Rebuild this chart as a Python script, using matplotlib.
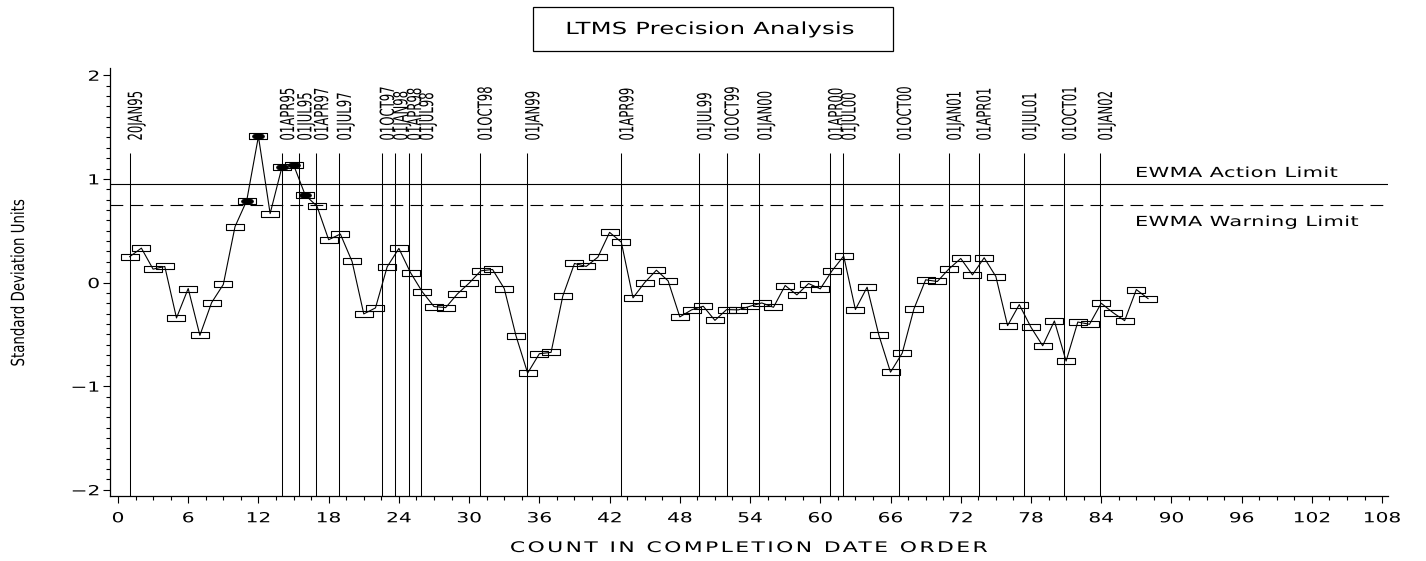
import numpy as np
import matplotlib
matplotlib.use("Agg")
import matplotlib.pyplot as plt
from matplotlib.path import Path
from matplotlib.patches import Rectangle
from matplotlib.patheffects import AbstractPathEffect
from matplotlib.ticker import MultipleLocator
from matplotlib.transforms import offset_copy

# ---------------- data ----------------
test_count = list(range(1, 89))
ewma_values = [0.249, 0.332, 0.129, 0.155, -0.342, -0.058, -0.510, -0.194, -0.019, 0.539,
               0.790, 1.410, 0.665, 1.110, 1.136, 0.843, 0.737, 0.413, 0.468, 0.203,
               -0.303, -0.245, 0.152, 0.329, 0.094, -0.090, -0.232, -0.242, -0.110, -0.006,
               0.113, 0.126, -0.058, -0.513, -0.874, -0.687, -0.674, -0.132, 0.184, 0.155,
               0.245, 0.484, 0.390, -0.148, 0.000, 0.119, 0.016, -0.332, -0.264, -0.229,
               -0.365, -0.261, -0.264, -0.229, -0.197, -0.239, -0.029, -0.119, -0.010, -0.061,
               0.113, 0.255, -0.261, -0.045, -0.506, -0.865, -0.681, -0.255, 0.026, 0.010,
               0.132, 0.232, 0.074, 0.239, 0.058, -0.416, -0.213, -0.432, -0.610, -0.371,
               -0.758, -0.381, -0.403, -0.200, -0.290, -0.368, -0.068, -0.155]
action_limit = 0.955
warning_limit = 0.745
date_labels = ["20JAN95", "01APR95", "01JUL95", "01APR97", "01JUL97", "01OCT97", "01JAN98",
               "01APR98", "01JUL98", "01OCT98", "01JAN99", "01APR99", "01JUL99", "01OCT99",
               "01JAN00", "01APR00", "01JUL00", "01OCT00", "01JAN01", "01APR01", "01JUL01",
               "01OCT01", "01JAN02"]
date_positions = [1.02, 14.02, 15.5, 16.93, 18.88, 22.55, 23.7, 24.87, 25.9, 30.9, 34.97,
                  43.0, 49.65, 52.0, 54.8, 60.85, 61.98, 66.72, 70.97, 73.52, 77.42, 80.83, 83.9]
x_ticks = list(range(0, 109, 6))
y_ticks = [-2, -1, 0, 1, 2]
y_tick_labels = ["\u22122", "\u22121", "0", "1", "2"]
title_text = "LTMS Precision Analysis"
x_label = "COUNT IN COMPLETION DATE ORDER"
y_label = "Standard Deviation Units"
action_text = "EWMA Action Limit"
warning_text = "EWMA Warning Limit"


# ------------- text width helper (real text, glyphs stretched/tracked) -------------
class Spaced(AbstractPathEffect):
    def __init__(self, sx=1.0, track=0.0, anchor="center"):
        super().__init__()
        self.sx, self.track, self.anchor = sx, track, anchor

    def draw_path(self, renderer, gc, tpath, affine, rgbFace=None):
        verts = np.array(tpath.vertices, dtype=float)
        codes = tpath.codes
        if codes is None or len(verts) == 0:
            renderer.draw_path(gc, tpath, affine, rgbFace)
            return
        codes = np.asarray(codes)
        valid = codes != Path.CLOSEPOLY
        starts = np.flatnonzero(codes == Path.MOVETO)
        ends = list(starts[1:]) + [len(verts)]
        contours = []
        for s, e in zip(starts, ends):
            m = valid[s:e]
            xs = verts[s:e][m, 0]
            if len(xs) == 0:
                continue
            contours.append((xs.min(), xs.max(), s, e))
        contours.sort(key=lambda c: c[0])
        groups = []
        for c in contours:
            cen = 0.5 * (c[0] + c[1])
            if groups and cen < groups[-1][1]:
                groups[-1][1] = max(groups[-1][1], c[1])
                groups[-1][2].append(c)
            else:
                groups.append([c[0], c[1], [c]])
        new = verts.copy()
        shift = 0.0
        prev_max = None
        for g in groups:
            if prev_max is not None:
                shift += self.track
                if g[0] - prev_max > 28:
                    shift += self.track
            for c in g[2]:
                new[c[2]:c[3], 0] += shift
            prev_max = g[1] if prev_max is None else max(prev_max, g[1])
        ox = verts[valid, 0]
        nx = new[valid, 0]
        if self.anchor == "start":
            a_old, a_new = 0.0, 0.0
        elif self.anchor == "end":
            a_old, a_new = ox.max(), nx.max()
        else:
            a_old = 0.5 * (ox.min() + ox.max())
            a_new = 0.5 * (nx.min() + nx.max())
        new[:, 0] = a_old + self.sx * (new[:, 0] - a_new)
        renderer.draw_path(gc, Path(new, codes), affine, rgbFace)


plt.rcParams["font.family"] = ["DejaVu Sans"]

W, H = 1426, 561
fig = plt.figure(figsize=(W / 100, H / 100), dpi=100)
fig.patch.set_facecolor("white")
ax = fig.add_axes([110 / W, 1 - 496 / H, (1388 - 110) / W, (496 - 68) / H])
ax.set_xlim(-0.68, 108.5)
ax.set_ylim(-2.06, 2.07)

# limit lines
ax.axhline(action_limit, color="black", lw=0.8, zorder=2)
ax.axhline(warning_limit, color="black", lw=0.8, ls=(0, (11.5, 6.5)), zorder=2)

# date reference lines + labels
ax.vlines(date_positions, -2.06, 1.25, colors="black", lw=0.75, zorder=2)
lab_tr = offset_copy(ax.transData, fig=fig, x=-3, y=0, units="dots")
for lab, xp in zip(date_labels, date_positions):
    t = ax.text(xp, 1.37, lab, rotation=90, ha="left", va="bottom",
                fontsize=14, transform=lab_tr, clip_on=False)
    t.set_path_effects([Spaced(sx=0.6, track=0, anchor="start")])

# EWMA series
box = Path([(-1, -0.32), (1, -0.32), (1, 0.32), (-1, 0.32), (-1, -0.32)],
           [Path.MOVETO, Path.LINETO, Path.LINETO, Path.LINETO, Path.CLOSEPOLY])
th = np.linspace(0, 2 * np.pi, 41)
ell = Path(np.column_stack([np.cos(th), 0.5 * np.sin(th)]), closed=True)

ax.plot(test_count, ewma_values, color="black", lw=0.8, zorder=3)
ax.plot(test_count, ewma_values, ls="none", marker=box, ms=13, mfc="none",
        mec="black", mew=0.8, zorder=4)
fx = [c for c, v in zip(test_count, ewma_values) if v > warning_limit]
fy = [v for v in ewma_values if v > warning_limit]
ax.plot(fx, fy, ls="none", marker=ell, ms=8.5, mfc="black", mec="black", mew=0.5, zorder=5)

# limit labels
t = ax.text(1135 / W, 1 - 177 / H, action_text, transform=fig.transFigure,
            ha="left", va="baseline", fontsize=10)
t.set_path_effects([Spaced(sx=1.5, track=2, anchor="start")])
t = ax.text(1135 / W, 1 - 226 / H, warning_text, transform=fig.transFigure,
            ha="left", va="baseline", fontsize=10)
t.set_path_effects([Spaced(sx=1.5, track=2, anchor="start")])

# axes styling
for s in ("top", "right"):
    ax.spines[s].set_visible(False)
for s in ("left", "bottom"):
    ax.spines[s].set_linewidth(0.9)
ax.set_xticks(x_ticks)
ax.set_yticks(y_ticks)
ax.set_yticklabels(y_tick_labels)
ax.xaxis.set_minor_locator(MultipleLocator(1.5))
ax.yaxis.set_minor_locator(MultipleLocator(0.1))
ax.tick_params(axis="both", which="major", direction="out", length=5, width=0.8,
               labelsize=10, colors="black")
ax.tick_params(axis="both", which="minor", direction="out", length=2.6, width=0.8)
ax.tick_params(axis="x", which="major", pad=6)
ax.tick_params(axis="y", which="major", pad=2.5)
for lbl in ax.get_xticklabels():
    lbl.set_path_effects([Spaced(sx=1.45, track=0, anchor="center")])
for lbl in ax.get_yticklabels():
    lbl.set_path_effects([Spaced(sx=1.45, track=0, anchor="end")])

# axis titles
t = fig.text(749 / W, 1 - 552 / H, x_label, ha="center", va="baseline", fontsize=10.5)
t.set_path_effects([Spaced(sx=1.5, track=11, anchor="center")])
t = fig.text(19 / W, 1 - 283 / H, y_label, ha="center", va="center", rotation=90,
             fontsize=13)
t.set_path_effects([Spaced(sx=0.74, track=0, anchor="center")])

# title with frame
fig.add_artist(Rectangle((533 / W, 1 - 51 / H), (893 - 533) / W, (51 - 7) / H,
                         transform=fig.transFigure, fill=False, lw=0.9, ec="black"))
t = fig.text(710 / W, 1 - 34 / H, title_text, ha="center", va="baseline", fontsize=12)
t.set_path_effects([Spaced(sx=1.45, track=1, anchor="center")])

fig.savefig("out.png", dpi=100, facecolor="white")
